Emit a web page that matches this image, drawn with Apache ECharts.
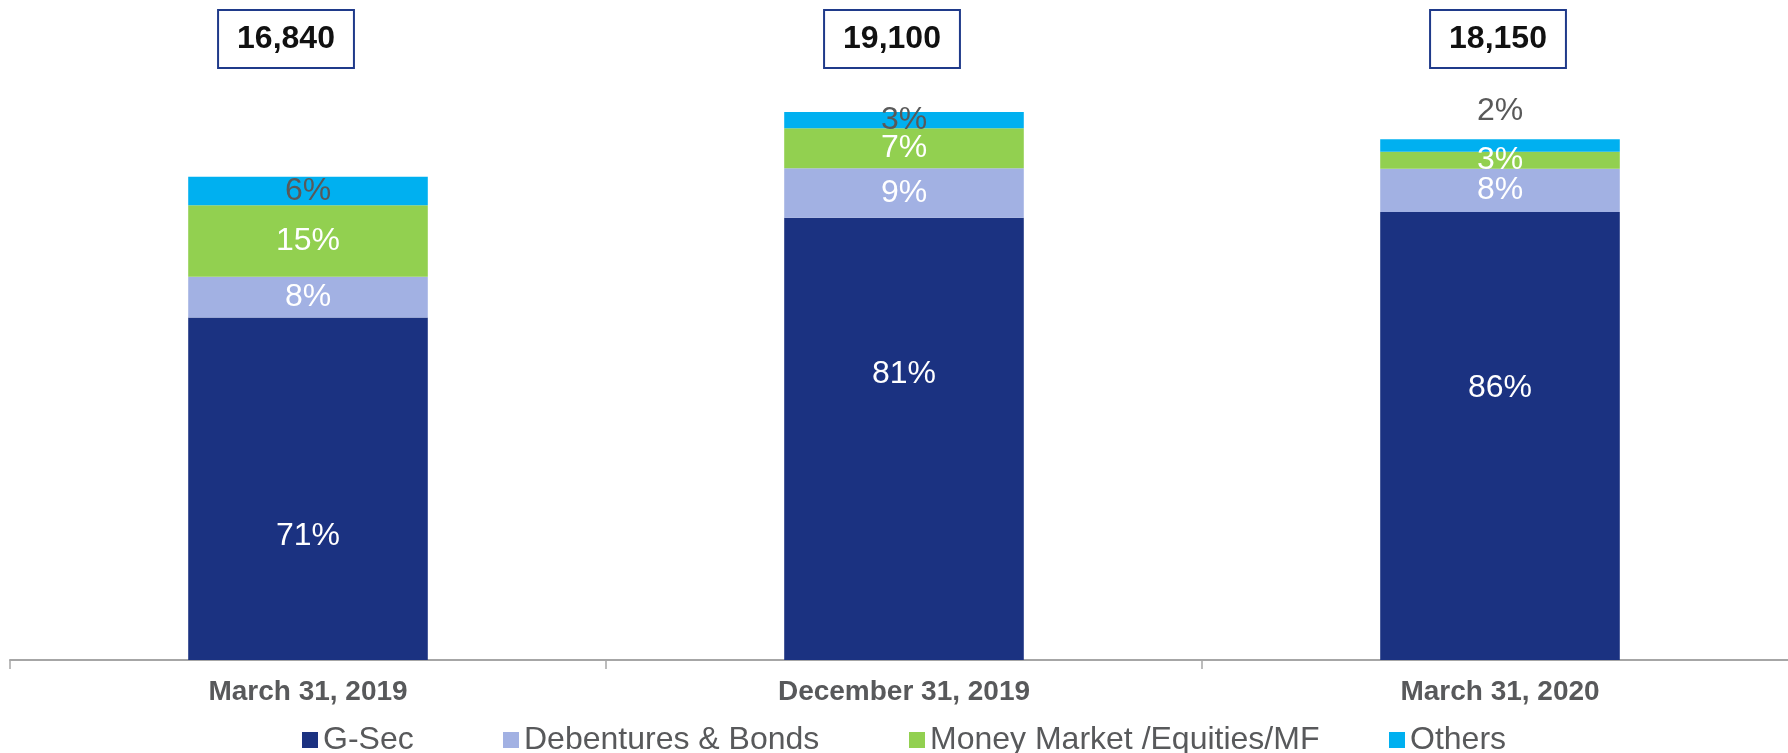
<!DOCTYPE html>
<html>
<head>
<meta charset="utf-8">
<script src="https://cdn.jsdelivr.net/npm/echarts@6/dist/echarts.min.js"></script>
<style>
html,body{margin:0;padding:0;background:#fff;}
#chart{width:1788px;height:753px;}
</style>
</head>
<body>
<div id="chart"></div>
<script>
// ---- data ----
const categories = ['March 31, 2019', 'December 31, 2019', 'March 31, 2020'];
const totals = [16840, 19100, 18150];
const seriesNames = ['G-Sec', 'Debentures & Bonds', 'Money Market /Equities/MF', 'Others'];
const gsecShare = [70.9, 80.7, 86.0];
const debShare = [8.4, 9.0, 8.3];
const mmShare = [14.8, 7.3, 3.3];
const othersShare = [5.9, 3.0, 2.4];

// ---- styles ----
const colors = ['#1b3281', '#a2b1e3', '#92d050', '#00b0f0'];
const labelColors = ['#ffffff', '#ffffff', '#ffffff', '#595959'];
const gsecLabelOffsets = [[0, 47], [0, -65], [0, -48]];
const boxSpacer = [44, 24, 4];
const legendLeft = [302, 503, 909, 1389];
const FONT = "'Liberation Sans', Arial, sans-serif";

function buildData(shares, si) {
  return shares.map(function (s, i) {
    const item = { value: s / 100 * totals[i], share: s };
    if (si === 0) item.label = { offset: gsecLabelOffsets[i] };
    if (si === 3 && i === 2) item.label = { position: 'top', distance: 12 };
    return item;
  });
}

const shareSets = [gsecShare, debShare, mmShare, othersShare];
const series = seriesNames.map(function (name, si) {
  return {
    name: name,
    type: 'bar',
    stack: 'total',
    barWidth: '40.2%',
    itemStyle: { color: colors[si] },
    label: {
      show: true,
      position: 'inside',
      color: labelColors[si],
      fontFamily: FONT,
      fontSize: 32,
      formatter: function (p) { return Math.round(p.data.share) + '%'; }
    },
    emphasis: { disabled: true },
    data: buildData(shareSets[si], si)
  };
});

const boxStyle = {
  color: '#111111',
  fontFamily: FONT,
  fontWeight: 'bold',
  fontSize: 32,
  lineHeight: 34,
  borderColor: '#1f3a8a',
  borderWidth: 2,
  backgroundColor: '#ffffff',
  padding: [12, 18, 12, 18]
};
const rich = {};
boxSpacer.forEach(function (w, i) {
  rich['b' + i] = boxStyle;
  rich['s' + i] = { width: w, fontSize: 32 };
});

const legends = seriesNames.map(function (n, i) {
  return {
    data: [n],
    top: 724,
    left: legendLeft[i],
    itemWidth: 16,
    itemHeight: 16,
    icon: 'rect',
    padding: 0,
    textStyle: { color: '#58595b', fontFamily: FONT, fontSize: 32 }
  };
});

const chart = echarts.init(document.getElementById('chart'), null, { renderer: 'canvas' });
chart.setOption({
  animation: false,
  backgroundColor: '#ffffff',
  grid: { left: 10, width: 1788, top: 0, bottom: 93, containLabel: false, outerBoundsMode: 'none' },
  xAxis: [
    {
      type: 'category',
      data: categories,
      position: 'bottom',
      axisLine: { show: true, lineStyle: { color: '#a6a6a6', width: 2 } },
      axisTick: { show: true, length: 9, lineStyle: { color: '#a6a6a6', width: 1.5 } },
      axisLabel: {
        margin: 18,
        color: '#58595b',
        fontFamily: FONT,
        fontWeight: 'bold',
        fontSize: 28
      }
    },
    {
      type: 'category',
      data: categories,
      position: 'top',
      axisLine: { show: false },
      axisTick: { show: false },
      axisLabel: {
        inside: true,
        margin: 22,
        formatter: function (v, idx) {
          return '{b' + idx + '|' + totals[idx].toLocaleString('en-US') + '}{s' + idx + '| }';
        },
        rich: rich
      }
    }
  ],
  yAxis: {
    type: 'value',
    min: 0,
    max: 23000,
    show: false,
    splitLine: { show: false }
  },
  legend: legends,
  series: series
});
</script>
</body>
</html>
